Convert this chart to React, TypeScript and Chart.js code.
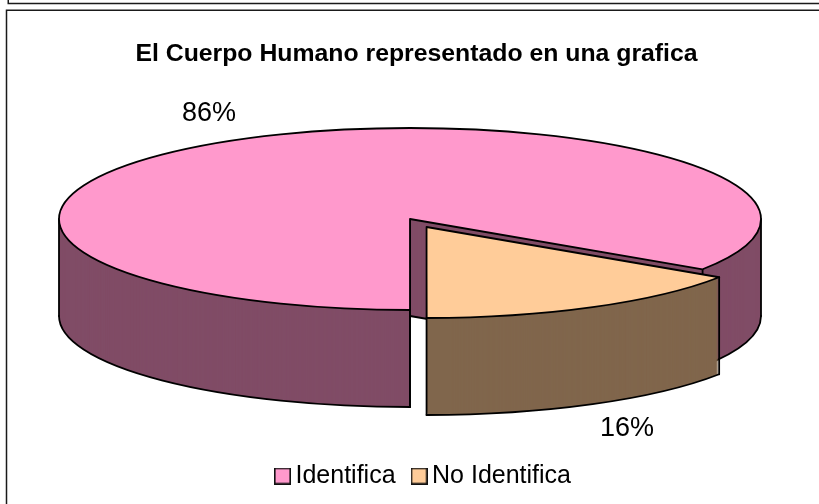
import React, { useEffect, useRef } from "react";
import { Chart, registerables } from "chart.js";

Chart.register(...registerables);

const titleText = "El Cuerpo Humano representado en una grafica";
const categories = ["Identifica", "No Identifica"];
const values = [86, 16];
const topColors = ["#FF99CC", "#FFCC99"];
const sideColors = ["#804C66", "#80664C"];
const explode = [0, 140];
const labelSpots = [
  [209, 114],
  [627, 429],
];

const CX = 410;
const CY = 219;
const RADIUS = 351;
const SQUASH = 91 / 351;
const DEPTH = 97;
const INK = "#000000";
const LINE = 1.8;
const FONT = '"Liberation Sans", Arial, sans-serif';
const LEGEND_DX = 10;
const LEGEND_DY = -5.5;

type Pt = { x: number; y: number };

function shift(arc: any) {
  const off = (arc.options.offset || 0) / 4;
  const mid = (arc.startAngle + arc.endAngle) / 2;
  return { dx: Math.cos(mid) * off, dy: Math.sin(mid) * off * SQUASH };
}

function project(arc: any, angle: number, depth: number): Pt {
  const s = shift(arc);
  return {
    x: CX + s.dx + Math.cos(angle) * arc.outerRadius,
    y: CY + s.dy + Math.sin(angle) * arc.outerRadius * SQUASH + depth,
  };
}

function tipOf(arc: any, depth: number): Pt {
  const s = shift(arc);
  return { x: CX + s.dx, y: CY + s.dy + depth };
}

function paintArc(ctx: CanvasRenderingContext2D, arc: any, color: string, depth: number) {
  const saved = arc.options;
  const savedRadius = arc.outerRadius;
  const off = (saved.offset || 0) / 4;
  const sweep = arc.endAngle - arc.startAngle;
  // ArcElement grows the path a little when offset; keep the slice at its true radius.
  arc.outerRadius = savedRadius - off * (1 - Math.sin(Math.min(Math.PI, sweep)));
  arc.options = {
    backgroundColor: color,
    borderColor: color,
    borderWidth: 0,
    borderAlign: "center",
    borderRadius: 0,
    circular: true,
    offset: saved.offset,
    spacing: 0,
  };
  ctx.save();
  ctx.translate(CX, CY + depth);
  ctx.scale(1, SQUASH);
  ctx.translate(-arc.x, -arc.y);
  arc.draw(ctx);
  ctx.restore();
  arc.options = saved;
  arc.outerRadius = savedRadius;
}

function strokeSegment(ctx: CanvasRenderingContext2D, a: Pt, b: Pt) {
  ctx.beginPath();
  ctx.moveTo(a.x, a.y);
  ctx.lineTo(b.x, b.y);
  ctx.stroke();
}

function strokeRim(ctx: CanvasRenderingContext2D, arc: any, from: number, to: number, depth: number) {
  const s = shift(arc);
  ctx.beginPath();
  ctx.ellipse(CX + s.dx, CY + s.dy + depth, arc.outerRadius, arc.outerRadius * SQUASH, 0, from, to);
  ctx.stroke();
}

function strokeSector(ctx: CanvasRenderingContext2D, arc: any) {
  const tip = tipOf(arc, 0);
  const s = shift(arc);
  ctx.beginPath();
  ctx.moveTo(tip.x, tip.y);
  ctx.ellipse(CX + s.dx, CY + s.dy, arc.outerRadius, arc.outerRadius * SQUASH, 0, arc.startAngle, arc.endAngle);
  ctx.closePath();
  ctx.stroke();
}

function drawSolid(ctx: CanvasRenderingContext2D, arc: any, index: number) {
  for (let d = DEPTH; d > 0; d--) paintArc(ctx, arc, sideColors[index], d);

  ctx.strokeStyle = INK;
  ctx.lineWidth = LINE;
  ctx.lineJoin = "round";
  ctx.lineCap = "round";

  const { startAngle: a0, endAngle: a1 } = arc;
  for (let k = -1; k <= 2; k++) {
    const lo = Math.max(a0, 2 * Math.PI * k);
    const hi = Math.min(a1, 2 * Math.PI * k + Math.PI);
    if (hi > lo) strokeRim(ctx, arc, lo, hi, DEPTH);
  }

  const verticals: number[] = [];
  [a0, a1].forEach((a) => {
    if (Math.sin(a) > 0) verticals.push(a);
  });
  for (let k = -1; k <= 3; k++) {
    const a = Math.PI * k;
    if (a > a0 && a < a1) verticals.push(a);
  }
  verticals.forEach((a) => strokeSegment(ctx, project(arc, a, 0), project(arc, a, DEPTH)));

  if (a1 - a0 > Math.PI) {
    const tip = tipOf(arc, 0);
    const low = tipOf(arc, DEPTH);
    strokeSegment(ctx, tip, low);
    strokeSegment(ctx, low, project(arc, a0, DEPTH));
    strokeSegment(ctx, low, project(arc, a1, DEPTH));
  }

  paintArc(ctx, arc, topColors[index], 0);
  strokeSector(ctx, arc);
}

function legendSwatch(color: string) {
  const c = document.createElement("canvas");
  c.width = 17;
  c.height = 17;
  const g = c.getContext("2d") as CanvasRenderingContext2D;
  g.fillStyle = color;
  g.fillRect(1, 1, 15, 15);
  g.strokeStyle = "#111111";
  g.lineWidth = 1.6;
  g.strokeRect(0.8, 0.8, 15.4, 15.4);
  return c;
}

const solidPie = {
  id: "solidPie",
  afterLayout(chart: any) {
    const lg = chart.legend;
    if (!lg) return;
    lg.left += LEGEND_DX;
    lg.right += LEGEND_DX;
    lg.top += LEGEND_DY;
    lg.bottom += LEGEND_DY;
  },
  beforeDraw(chart: any) {
    const ctx: CanvasRenderingContext2D = chart.ctx;
    ctx.save();
    ctx.fillStyle = "#ffffff";
    ctx.fillRect(0, 0, chart.width, chart.height);
    ctx.strokeStyle = "#1a1a1a";
    ctx.lineWidth = 1.5;
    ctx.beginPath();
    ctx.moveTo(8.25, 0);
    ctx.lineTo(8.25, 3.5);
    ctx.lineTo(chart.width, 3.5);
    ctx.moveTo(6.5, chart.height);
    ctx.lineTo(6.5, 10.25);
    ctx.lineTo(chart.width, 10.25);
    ctx.stroke();
    ctx.restore();
  },
  beforeDatasetsDraw(chart: any) {
    const ctx: CanvasRenderingContext2D = chart.ctx;
    const arcs = chart.getDatasetMeta(0).data;
    ctx.save();
    arcs.forEach((arc: any, i: number) => drawSolid(ctx, arc, i));
    ctx.fillStyle = "#000000";
    ctx.font = `27px ${FONT}`;
    ctx.textAlign = "center";
    ctx.textBaseline = "middle";
    values.forEach((v, i) => ctx.fillText(`${v}%`, labelSpots[i][0], labelSpots[i][1]));
    ctx.restore();
    return false;
  },
};

export default function App() {
  const ref = useRef<HTMLCanvasElement | null>(null);
  useEffect(() => {
    document.body.style.margin = "0";
    const chart = new Chart(ref.current as HTMLCanvasElement, {
      type: "pie",
      data: {
        labels: categories,
        datasets: [
          {
            data: values,
            backgroundColor: topColors,
            borderWidth: 0,
            offset: explode,
          } as any,
        ],
      },
      options: {
        responsive: false,
        animation: false,
        rotation: 180,
        radius: RADIUS,
        layout: { padding: { left: 14, top: 39, bottom: 0 } },
        plugins: {
          title: {
            display: true,
            text: titleText,
            color: "#000000",
            font: { family: FONT, size: 24.8, weight: "bold" },
            padding: { top: 0, bottom: 10 },
          },
          legend: {
            display: true,
            position: "bottom",
            labels: {
              color: "#000000",
              font: { family: FONT, size: 25 },
              usePointStyle: true,
              pointStyleWidth: 1,
              boxHeight: 17,
              padding: 23,
              generateLabels: () =>
                categories.map((text, i) => ({
                  text,
                  fillStyle: topColors[i],
                  strokeStyle: INK,
                  lineWidth: 1,
                  pointStyle: legendSwatch(topColors[i]),
                  hidden: false,
                  index: i,
                })),
            },
          },
          tooltip: { enabled: false },
        },
      } as any,
      plugins: [solidPie],
    });
    return () => chart.destroy();
  }, []);
  return (
    <div style={{ position: "absolute", left: 0, top: 0, width: 819, height: 504 }}>
      <canvas ref={ref} width={819} height={504} style={{ display: "block" }} />
    </div>
  );
}
